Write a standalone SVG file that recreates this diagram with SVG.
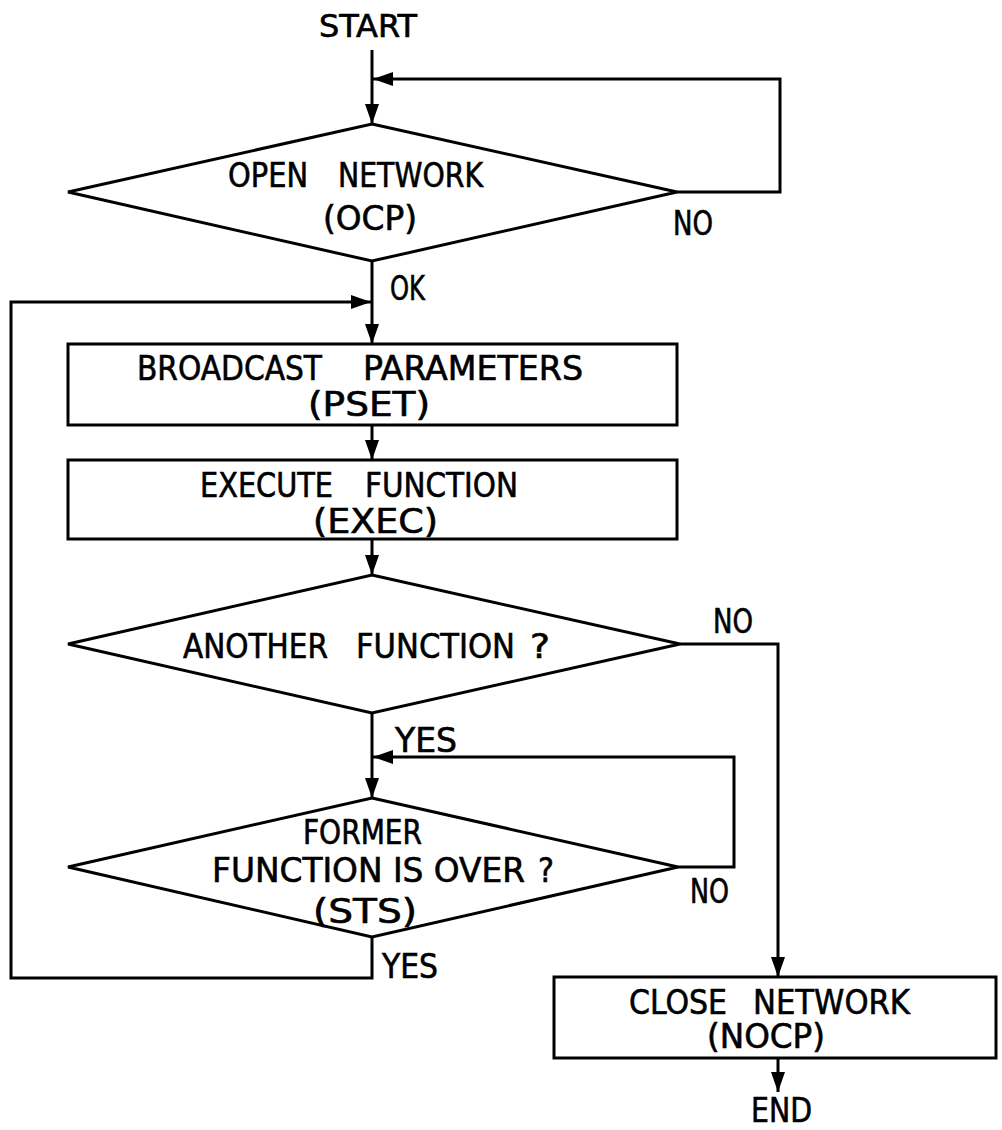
<svg xmlns="http://www.w3.org/2000/svg" width="1002" height="1130" viewBox="0 0 1002 1130">
  <style>
    .shape { fill: none; stroke: #000; stroke-width: 3; stroke-linejoin: miter; }
    .wire { fill: none; stroke: #000; stroke-width: 3; }
    text { font-family: "Liberation Sans Narrow", "DejaVu Sans Condensed", "Liberation Sans", sans-serif; font-size: 34px; fill: #000; stroke: #000; stroke-width: 0.6; }
    .lbl { font-size: 33px; }
  </style>
  <defs>
    <marker id="arrow" markerUnits="userSpaceOnUse" markerWidth="20" markerHeight="14" refX="20" refY="7" orient="auto">
      <path d="M0,0 L20,7 L0,14 Z" fill="#000"/>
    </marker>
  </defs>
  <rect width="1002" height="1130" fill="#fff"/>

  <!-- terminal: start -->
  <g id="start">
    <text x="319" y="37" textLength="98" lengthAdjust="spacingAndGlyphs" style="font-size:32px">START</text>
  </g>

  <!-- decision: open network -->
  <g id="open-network">
    <polygon class="shape" points="372,124 677,192 372,261 68,192"/>
    <text y="187"><tspan x="228" textLength="80" lengthAdjust="spacingAndGlyphs">OPEN</tspan> <tspan x="338" textLength="145" lengthAdjust="spacingAndGlyphs">NETWORK</tspan></text>
    <text x="323" y="230" textLength="94" lengthAdjust="spacingAndGlyphs">(OCP)</text>
  </g>

  <!-- process: broadcast parameters -->
  <g id="broadcast-parameters">
    <rect class="shape" x="68" y="344" width="609" height="81"/>
    <text y="380"><tspan x="137" textLength="185" lengthAdjust="spacingAndGlyphs">BROADCAST</tspan> <tspan x="363" textLength="220" lengthAdjust="spacingAndGlyphs">PARAMETERS</tspan></text>
    <text x="308" y="416" textLength="122" lengthAdjust="spacingAndGlyphs">(PSET)</text>
  </g>

  <!-- process: execute function -->
  <g id="execute-function">
    <rect class="shape" x="68" y="460" width="609" height="79"/>
    <text y="497"><tspan x="200" textLength="133" lengthAdjust="spacingAndGlyphs">EXECUTE</tspan> <tspan x="365" textLength="153" lengthAdjust="spacingAndGlyphs">FUNCTION</tspan></text>
    <text x="313" y="533" textLength="125" lengthAdjust="spacingAndGlyphs">(EXEC)</text>
  </g>

  <!-- decision: another function -->
  <g id="another-function">
    <polygon class="shape" points="372,575 680,644 372,713 68,644"/>
    <text y="658"><tspan x="183" textLength="145" lengthAdjust="spacingAndGlyphs">ANOTHER</tspan> <tspan x="356" textLength="159" lengthAdjust="spacingAndGlyphs">FUNCTION</tspan> <tspan x="530" textLength="20" lengthAdjust="spacingAndGlyphs">?</tspan></text>
  </g>

  <!-- decision: former function finished -->
  <g id="former-function-over">
    <polygon class="shape" points="372,798 678,867 372,937 68,867"/>
    <text x="303" y="844" textLength="119" lengthAdjust="spacingAndGlyphs" style="font-size:33px">FORMER</text>
    <text y="882"><tspan x="212" textLength="313" lengthAdjust="spacingAndGlyphs">FUNCTION IS OVER</tspan> <tspan x="538" textLength="16" lengthAdjust="spacingAndGlyphs">?</tspan></text>
    <text x="313" y="923" textLength="104" lengthAdjust="spacingAndGlyphs">(STS)</text>
  </g>

  <!-- process: close network -->
  <g id="close-network">
    <rect class="shape" x="554" y="977" width="442" height="81"/>
    <text y="1014"><tspan x="629" textLength="98" lengthAdjust="spacingAndGlyphs">CLOSE</tspan> <tspan x="753" textLength="157" lengthAdjust="spacingAndGlyphs">NETWORK</tspan></text>
    <text x="707" y="1048" textLength="118" lengthAdjust="spacingAndGlyphs">(NOCP)</text>
  </g>

  <!-- terminal: end -->
  <g id="end">
    <text x="751" y="1122" textLength="61" lengthAdjust="spacingAndGlyphs">END</text>
  </g>

  <!-- flow lines and branch labels -->
  <g id="connectors">
    <path class="wire" d="M372,50 V124" marker-end="url(#arrow)"/>
    <path class="wire" d="M677,192 H780 V79 H373" marker-end="url(#arrow)"/>
    <path class="wire" d="M372,261 V344" marker-end="url(#arrow)"/>
    <path class="wire" d="M372,937 V978 H11 V302 H371" marker-end="url(#arrow)"/>
    <path class="wire" d="M372,425 V460" marker-end="url(#arrow)"/>
    <path class="wire" d="M372,539 V575" marker-end="url(#arrow)"/>
    <path class="wire" d="M680,644 H778 V977" marker-end="url(#arrow)"/>
    <path class="wire" d="M372,713 V798" marker-end="url(#arrow)"/>
    <path class="wire" d="M678,867 H734 V757 H373" marker-end="url(#arrow)"/>
    <path class="wire" d="M778,1058 V1092" marker-end="url(#arrow)"/>

    <text class="lbl" x="673" y="235" textLength="40" lengthAdjust="spacingAndGlyphs">NO</text>
    <text class="lbl" x="390" y="300" textLength="35" lengthAdjust="spacingAndGlyphs">OK</text>
    <text class="lbl" x="713" y="633" textLength="40" lengthAdjust="spacingAndGlyphs">NO</text>
    <text class="lbl" x="395" y="752" textLength="62" lengthAdjust="spacingAndGlyphs">YES</text>
    <text class="lbl" x="690" y="903" textLength="39" lengthAdjust="spacingAndGlyphs">NO</text>
    <text class="lbl" x="382" y="978" textLength="56" lengthAdjust="spacingAndGlyphs">YES</text>
  </g>
</svg>
